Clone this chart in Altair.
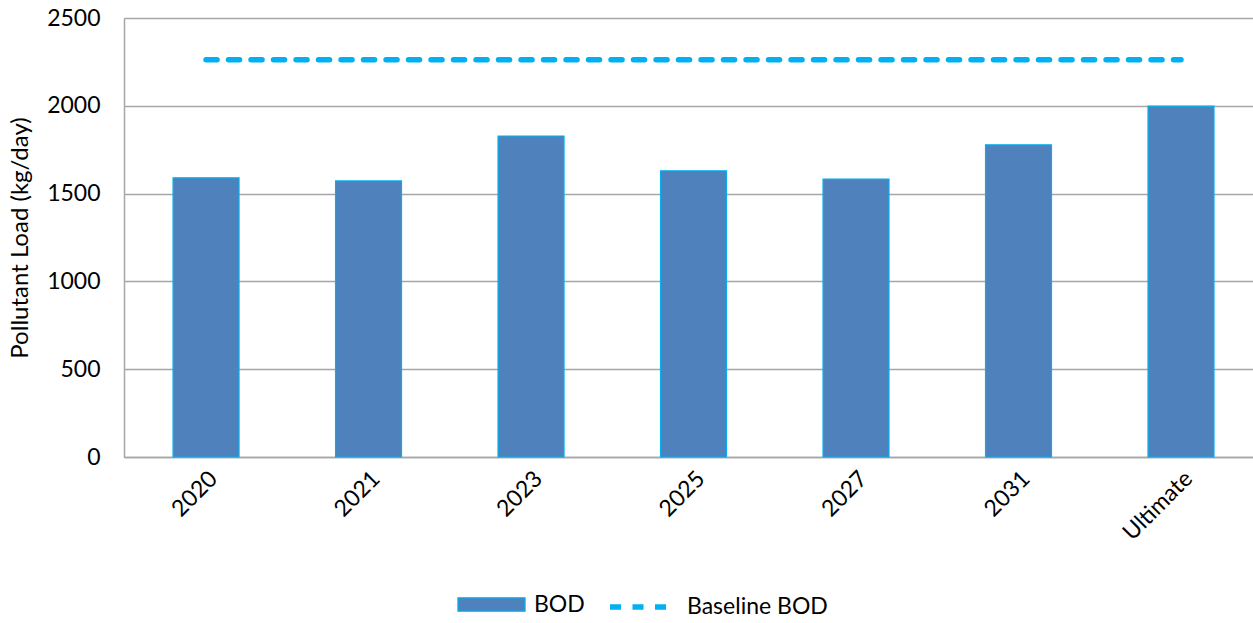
import altair as alt
import pandas as pd

# Projected BOD pollutant load by planning year (kg/day)
years = ["2020", "2021", "2023", "2025", "2027", "2031", "Ultimate"]
bod_load = [1590, 1572, 1828, 1630, 1583, 1778, 1998]
baseline_bod = [2262, 2262, 2262, 2262, 2262, 2262, 2262]

FONT = "Lato"
BAR_FILL = "#4F81BD"
BAR_EDGE = "#00B0F0"
GRID = "#A6A6A6"
TEXT_SIZE = 23

df = pd.DataFrame({
    "year": years,
    "bod": bod_load,
    "baseline": baseline_bod,
    "bar_series": ["BOD"] * len(years),
    "line_series": ["Baseline BOD"] * len(years),
})

x_enc = alt.X(
    "year:N",
    sort=years,
    scale=alt.Scale(paddingInner=0.594, paddingOuter=0.271, align=0.557),
    axis=alt.Axis(
        title=None,
        labelAngle=-45,
        labelAlign="right",
        labelBaseline="top",
        labelPadding=10,
        labelFont=FONT,
        labelFontSize=TEXT_SIZE,
        labelColor="#000000",
        ticks=False,
        domainColor=GRID,
        domainWidth=1.5,
        grid=False,
    ),
)

bars = alt.Chart(df).mark_bar(
    stroke=BAR_EDGE, strokeWidth=1.2
).encode(
    x=x_enc,
    y=alt.Y(
        "bod:Q",
        scale=alt.Scale(domain=[0, 2500], nice=False),
        axis=alt.Axis(
            title="Pollutant Load (kg/day)",
            values=[0, 500, 1000, 1500, 2000, 2500],
            format="d",
            titleFont=FONT,
            titleFontSize=24,
            titleFontWeight="normal",
            titleColor="#000000",
            titlePadding=14,
            labelFont=FONT,
            labelFontSize=TEXT_SIZE,
            labelColor="#000000",
            labelPadding=24,
            ticks=False,
            domainColor=GRID,
            domainWidth=1.5,
            gridColor=GRID,
            gridWidth=1.5,
        ),
    ),
    fill=alt.Fill(
        "bar_series:N",
        scale=alt.Scale(domain=["BOD"], range=[BAR_FILL]),
        legend=alt.Legend(
            title=None,
            orient="none",
            legendX=333,
            legendY=552,
            symbolType="M-1,-0.2H1V0.2H-1Z",
            symbolSize=4500,
            symbolStrokeColor=BAR_EDGE,
            symbolStrokeWidth=1.2,
            labelFont=FONT,
            labelFontSize=TEXT_SIZE,
            labelColor="#000000",
            labelOffset=8,
        ),
    ),
)

baseline = alt.Chart(df).mark_line(
    strokeWidth=5.5, strokeDash=[11, 11.5], strokeCap="round"
).encode(
    x=alt.X("year:N", sort=years),
    y=alt.Y("baseline:Q"),
    stroke=alt.Stroke(
        "line_series:N",
        scale=alt.Scale(domain=["Baseline BOD"], range=[BAR_EDGE]),
        legend=alt.Legend(
            title=None,
            orient="none",
            legendX=483,
            legendY=556,
            symbolType="stroke",
            symbolSize=3600,
            symbolStrokeWidth=5.5,
            symbolDash=[11, 11.5],
            labelFont=FONT,
            labelFontSize=TEXT_SIZE,
            labelColor="#000000",
            labelOffset=14,
        ),
    ),
)

chart = alt.layer(bars, baseline).resolve_legend(
    fill="independent", stroke="independent"
).properties(
    width=1129,
    height=439,
    autosize=alt.AutoSizeParams(type="none"),
    padding={"left": 124, "top": 18, "right": 0, "bottom": 166},
).configure_view(
    stroke=None
).configure(
    background="#FFFFFF"
)

chart.save("out.html", embed_options={"renderer": "svg", "actions": False})
